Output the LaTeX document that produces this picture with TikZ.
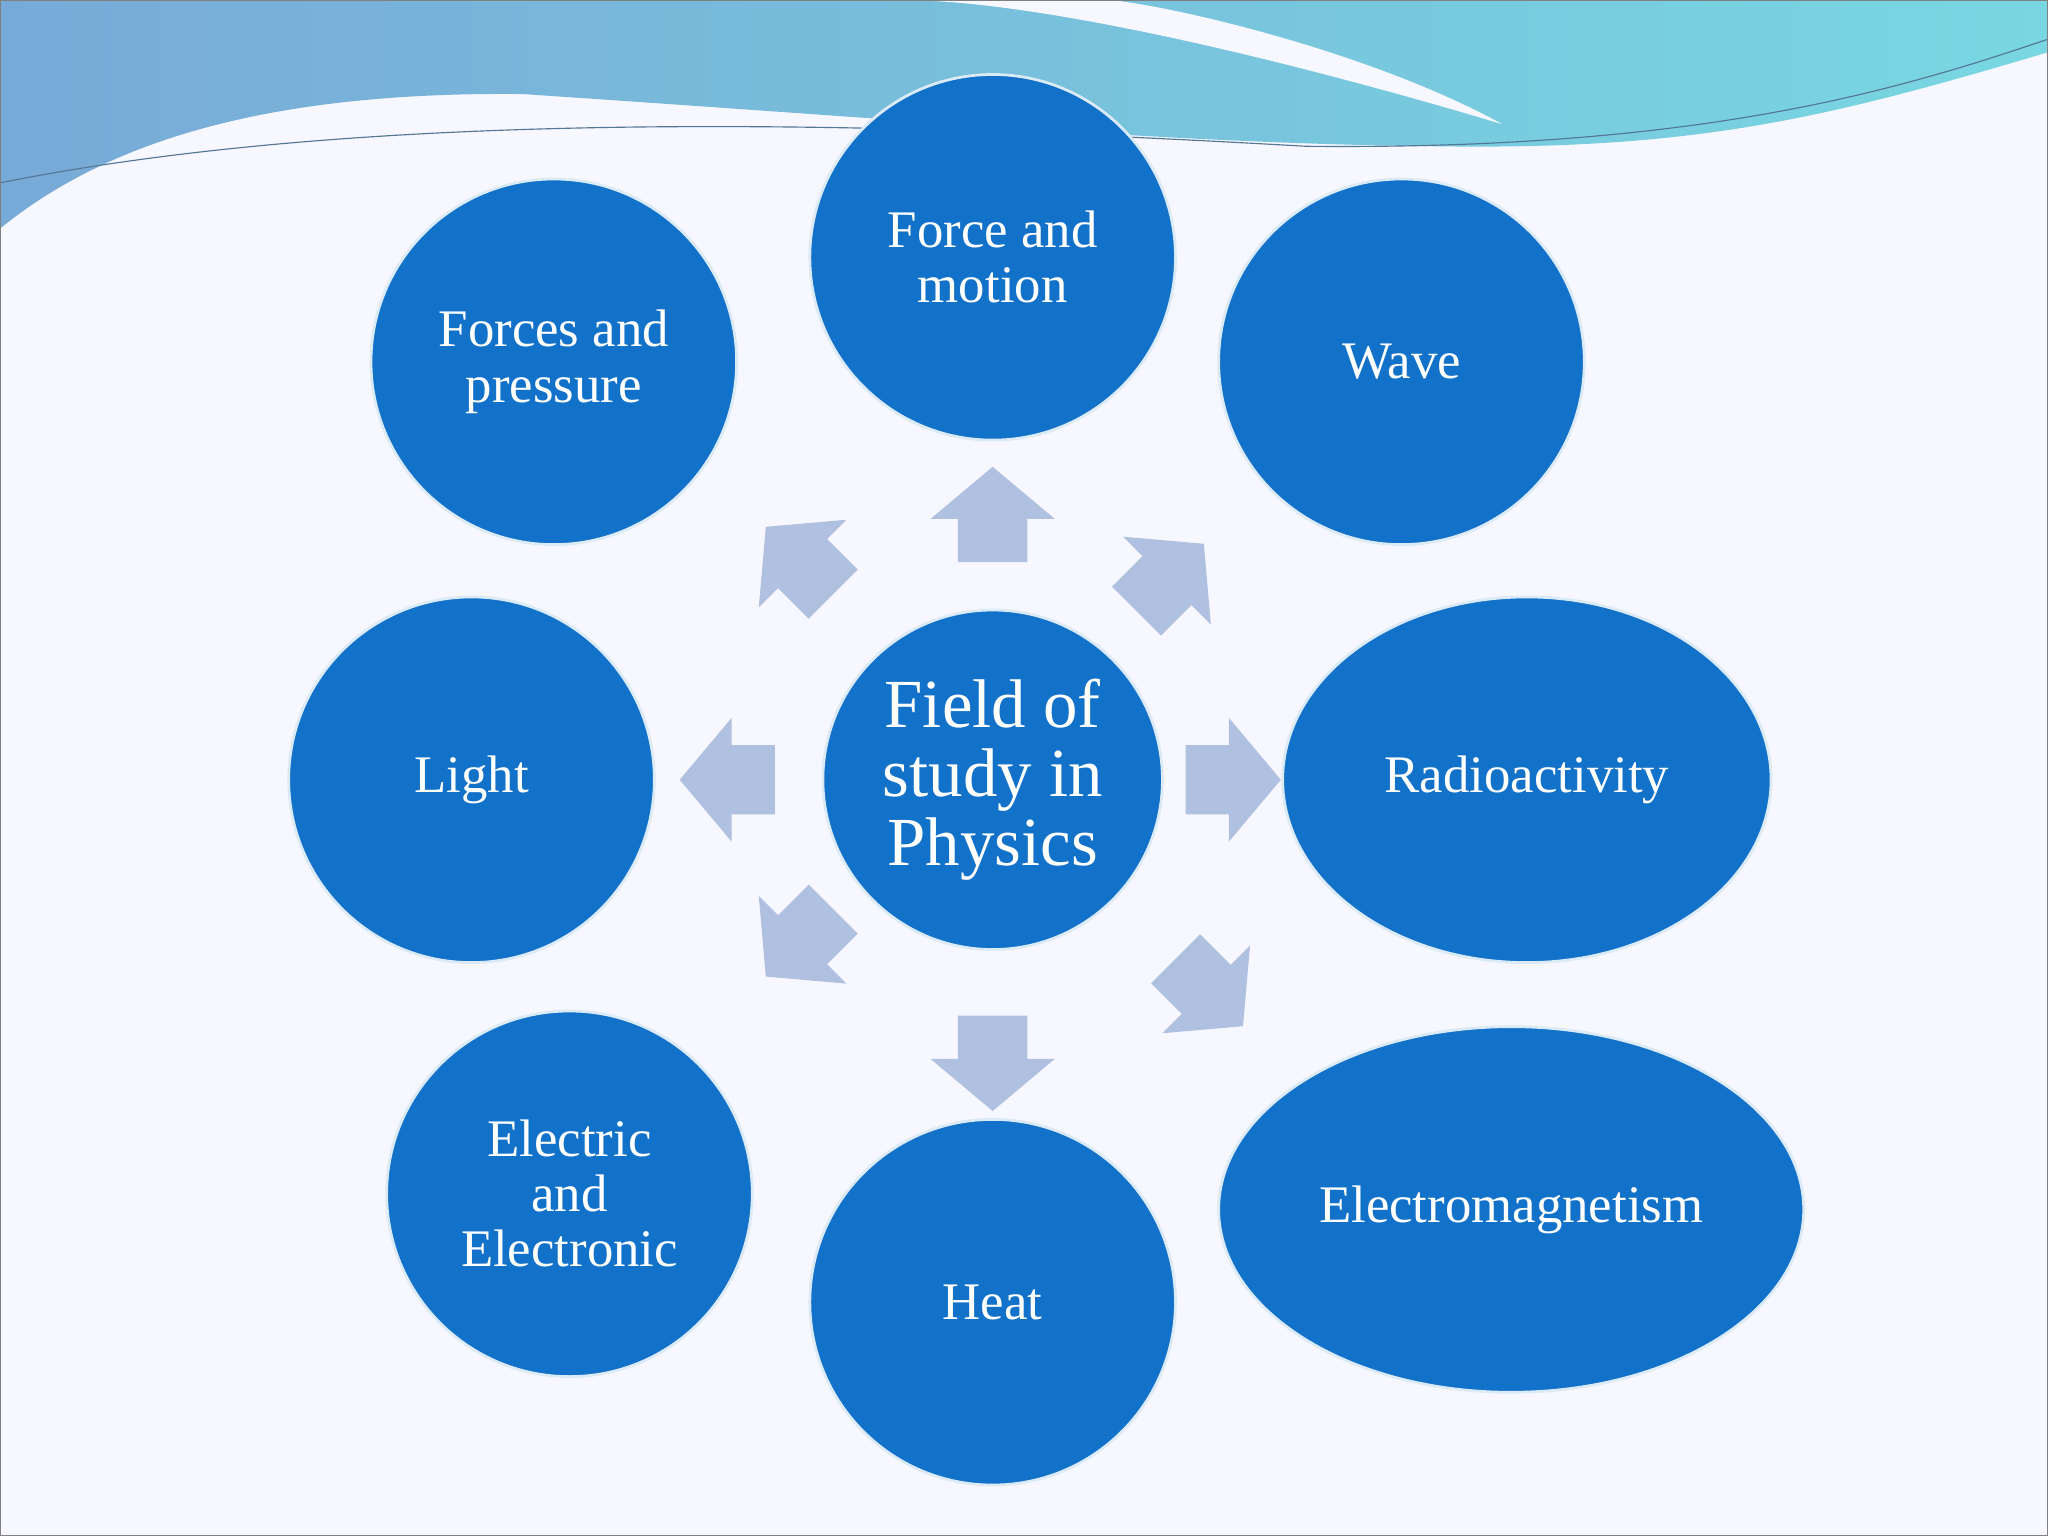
\documentclass[tikz,border=0pt]{standalone}
\usetikzlibrary{shapes.geometric,shapes.arrows}
\usepackage{fontspec}
\setmainfont{Liberation Serif}
\definecolor{cblue}{RGB}{18,113,200}
\definecolor{carrow}{RGB}{176,192,224}
\definecolor{wave1}{RGB}{120,170,215}
\definecolor{wave2}{RGB}{120,215,225}
\tikzset{
  topic/.style={circle,fill=cblue,draw=white!85!cblue,line width=1.2pt,minimum size=5.6cm,inner sep=0pt,text=white,font=\fontsize{23}{24}\selectfont,align=center},
  oval/.style={ellipse,fill=cblue,draw=white!85!cblue,line width=1.2pt,inner sep=0pt,text=white,font=\fontsize{23}{24}\selectfont,align=center},
  blockarr/.style={single arrow,fill=carrow,draw=none,minimum height=1.25cm,minimum width=1.9cm,inner sep=0.5cm,single arrow head extend=0.4cm,single arrow tip angle=100}
}
\begin{document}
\begin{tikzpicture}[x=0.02cm,y=-0.02cm]
\fill[white!97!blue] (0,0) rectangle (1568,1176);
\useasboundingbox (0,0) rectangle (1568,1176);
\shade[left color=wave1,right color=wave2] (0,0) -- (1568,0) -- (1568,40)
  .. controls (1400,90) and (1300,115) .. (1100,112)
  .. controls (900,110) and (700,92) .. (400,72)
  .. controls (200,70) and (80,110) .. (0,175) -- cycle;
\fill[white!97!blue] (690,0) .. controls (800,0) and (1000,50) .. (1150,95) .. controls (1050,40) and (900,5) .. (850,0) -- cycle;
\draw[wave1!70!black,line width=0.5pt] (0,140) .. controls (300,80) and (700,95) .. (1000,112) .. controls (1300,115) and (1450,70) .. (1568,30);
\draw[gray,line width=0.8pt] (0,0) rectangle (1568,1176);

\node[topic,minimum size=5.2cm,font=\fontsize{30}{30}\selectfont] (c) at (760,597) {Field of\\study in\\Physics};
\node[topic] (fm) at (760,197) {Force and\\motion};
\node[topic] (fp) at (424,277) {Forces and\\pressure};
\node[topic] (w) at (1073,277) {Wave};
\node[topic] (l) at (361,597) {Light};
\node[oval,minimum width=7.48cm,minimum height=5.6cm] (r) at (1169,597) {Radioactivity};
\node[topic] (e) at (436,914) {Electric\\and\\Electronic};
\node[topic] (h) at (760,997) {Heat};
\node[oval,minimum width=8.96cm,minimum height=5.6cm] (em) at (1157,926) {Electromagnetism};

\node[blockarr,rotate=90] (a1) at (760,405) {};
\node[blockarr,rotate=45] (a2) at (888,450) {};
\node[blockarr,rotate=0] (a3) at (933,597) {};
\node[blockarr,rotate=-45] (a4) at (918,752) {};
\node[blockarr,rotate=-90] (a5) at (760,803) {};
\node[blockarr,rotate=-135] (a6) at (620,714) {};
\node[blockarr,rotate=180] (a7) at (568,597) {};
\node[blockarr,rotate=135] (a8) at (620,437) {};
\end{tikzpicture}
\end{document}
